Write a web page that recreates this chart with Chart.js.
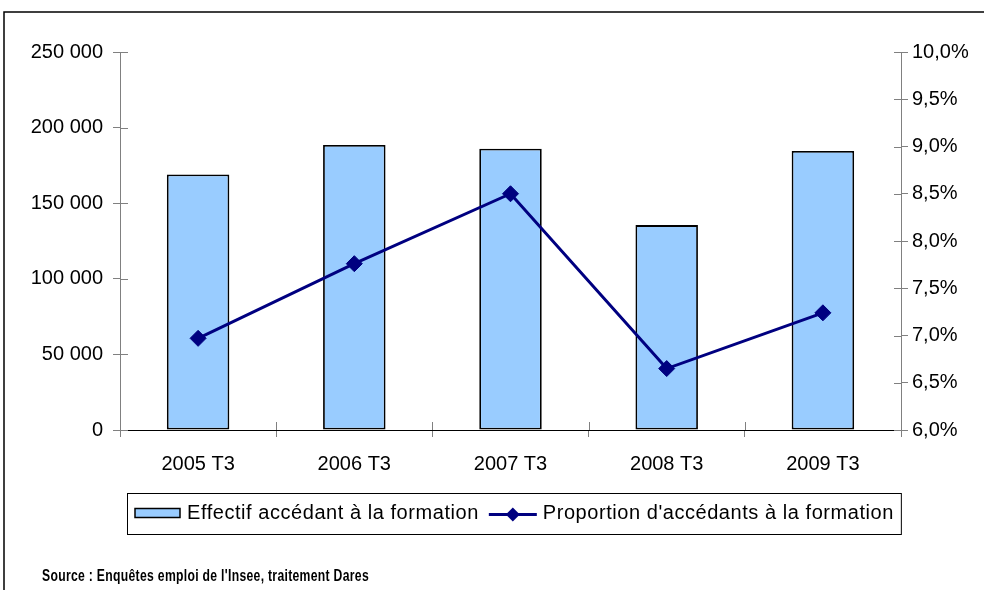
<!doctype html>
<html>
<head>
<meta charset="utf-8" />
<title>Effectif et proportion d'accédants à la formation</title>
<style>
  html, body { margin:0; padding:0; background:#fff; }
  .wrap { position:relative; width:984px; height:590px; }
  canvas { display:block; }
</style>
</head>
<body>
<div class="wrap"><canvas id="chart" width="984" height="590"></canvas></div>

<script src="https://cdn.jsdelivr.net/npm/chart.js@4.4.1/dist/chart.umd.min.js"></script>
<script>
// data
const categories = ['2005 T3', '2006 T3', '2007 T3', '2008 T3', '2009 T3'];
const effectifs = [169000, 188500, 186000, 135500, 184500];
const proportions = [6.97, 7.76, 8.50, 6.65, 7.24]; // in %
const barLabel = 'Effectif accédant à la formation';
const lineLabel = "Proportion d'accédants à la formation";
const sourceText = "Source : Enquêtes emploi de l'Insee, traitement Dares";

const FONT = "'Liberation Sans', Arial, sans-serif";
const BAR_FILL = '#99CCFF';
const NAVY = '#000080';
const AXIS_GREY = '#808080';

const fmtThousands = v => String(Math.round(v)).replace(/\B(?=(\d{3})+(?!\d))/g, ' ');
const fmtPct = v => v.toFixed(1).replace('.', ',') + '%';

// Excel-style crossing ticks, legend box, outer frame and source note
const decorPlugin = {
  id: 'decor',
  afterDraw(chart) {
    const ctx = chart.ctx;
    const { x, y, y1 } = chart.scales;
    const area = chart.chartArea;
    ctx.save();

    // inward half of the crossing tick marks
    ctx.strokeStyle = AXIS_GREY;
    ctx.lineWidth = 1;
    ctx.beginPath();
    y.ticks.forEach((t, i) => {
      const py = Math.round(y.getPixelForTick(i)) + 0.5;
      ctx.moveTo(area.left, py); ctx.lineTo(area.left + 8, py);
    });
    y1.ticks.forEach((t, i) => {
      const py = Math.round(y1.getPixelForTick(i)) + 0.5;
      ctx.moveTo(area.right - 7, py); ctx.lineTo(area.right, py);
    });
    for (let i = 1; i < categories.length; i++) {
      const px = Math.round((x.getPixelForTick(i - 1) + x.getPixelForTick(i)) / 2) + 0.5;
      ctx.moveTo(px, area.bottom - 8); ctx.lineTo(px, area.bottom);
    }
    ctx.stroke();

    // outer frame (top and left)
    ctx.strokeStyle = '#000';
    ctx.lineWidth = 1.5;
    ctx.beginPath();
    ctx.moveTo(4, chart.height); ctx.lineTo(4, 12); ctx.lineTo(chart.width, 12);
    ctx.stroke();

    // legend
    const bar = chart.data.datasets.find(d => d.type === 'bar');
    const line = chart.data.datasets.find(d => d.type === 'line');
    const lx = 127, ly = 493, lh = 41, cy = ly + lh / 2;
    ctx.font = '20px ' + FONT;
    ctx.letterSpacing = '0.55px';
    ctx.textBaseline = 'middle';
    let cx = lx + 8;
    ctx.fillStyle = bar.backgroundColor;
    ctx.fillRect(cx, cy - 5, 45, 9);
    ctx.strokeStyle = '#000'; ctx.lineWidth = 1.5;
    ctx.strokeRect(cx, cy - 5, 45, 9);
    cx += 52;
    ctx.fillStyle = '#000';
    ctx.fillText(bar.label, cx, cy);
    cx += ctx.measureText(bar.label).width + 10;
    ctx.strokeStyle = line.borderColor; ctx.lineWidth = 3;
    ctx.beginPath(); ctx.moveTo(cx, cy + 1); ctx.lineTo(cx + 48, cy + 1); ctx.stroke();
    ctx.fillStyle = line.pointBackgroundColor;
    ctx.beginPath();
    ctx.moveTo(cx + 24 - 7, cy + 1); ctx.lineTo(cx + 24, cy - 6);
    ctx.lineTo(cx + 24 + 7, cy + 1); ctx.lineTo(cx + 24, cy + 8);
    ctx.closePath(); ctx.fill();
    cx += 54;
    ctx.fillStyle = '#000';
    ctx.fillText(line.label, cx, cy);
    cx += ctx.measureText(line.label).width + 7;
    ctx.strokeStyle = '#000'; ctx.lineWidth = 1;
    ctx.strokeRect(lx + 0.5, ly + 0.5, cx - lx, lh);

    // source note, condensed bold like the original
    ctx.font = 'bold 16px ' + FONT;
    ctx.letterSpacing = '0.4px';
    ctx.textBaseline = 'middle';
    const w = ctx.measureText(sourceText).width;
    ctx.translate(42, 577);
    ctx.scale(327 / w, 1);
    ctx.fillText(sourceText, 0, 0);
    ctx.restore();
  }
};

new Chart(document.getElementById('chart'), {
  data: {
    labels: categories,
    datasets: [
      {
        type: 'line',
        label: lineLabel,
        data: proportions,
        yAxisID: 'y1',
        borderColor: NAVY,
        borderWidth: 3,
        pointStyle: 'rectRot',
        pointRadius: 8,
        pointBackgroundColor: NAVY,
        pointBorderColor: NAVY,
        pointBorderWidth: 1,
        tension: 0,
        order: 0
      },
      {
        type: 'bar',
        label: barLabel,
        data: effectifs,
        yAxisID: 'y',
        backgroundColor: BAR_FILL,
        borderColor: '#000',
        borderWidth: 1.8,
        borderSkipped: false,
        categoryPercentage: 1,
        barPercentage: 0.4,
        order: 1
      }
    ]
  },
  options: {
    responsive: false,
    animation: false,
    layout: { padding: { top: 52, left: 0, right: 0, bottom: 0 } },
    plugins: {
      legend: { display: false },
      tooltip: { enabled: false }
    },
    scales: {
      x: {
        offset: true,
        grid: { offset: true, drawOnChartArea: false, tickLength: 7, color: AXIS_GREY },
        border: { color: '#000', width: 1 },
        ticks: { color: '#000', font: { family: FONT, size: 20 }, padding: 15, maxRotation: 0 },
        afterFit: s => { s.height = 160; }
      },
      y: {
        position: 'left',
        min: 0, max: 250000,
        ticks: { stepSize: 50000, color: '#000', font: { family: FONT, size: 20 }, padding: 10,
                 callback: v => fmtThousands(v) },
        grid: { drawOnChartArea: false, tickLength: 7, color: AXIS_GREY },
        border: { color: AXIS_GREY, width: 1 },
        afterFit: s => { s.width = 120; }
      },
      y1: {
        position: 'right',
        min: 6, max: 10,
        ticks: { stepSize: 0.5, color: '#000', font: { family: FONT, size: 20 }, padding: 4,
                 callback: v => fmtPct(v) },
        grid: { drawOnChartArea: false, tickLength: 7, color: AXIS_GREY },
        border: { color: AXIS_GREY, width: 1 },
        afterFit: s => { s.width = 83; }
      }
    }
  },
  plugins: [decorPlugin]
});
</script>
</body>
</html>
